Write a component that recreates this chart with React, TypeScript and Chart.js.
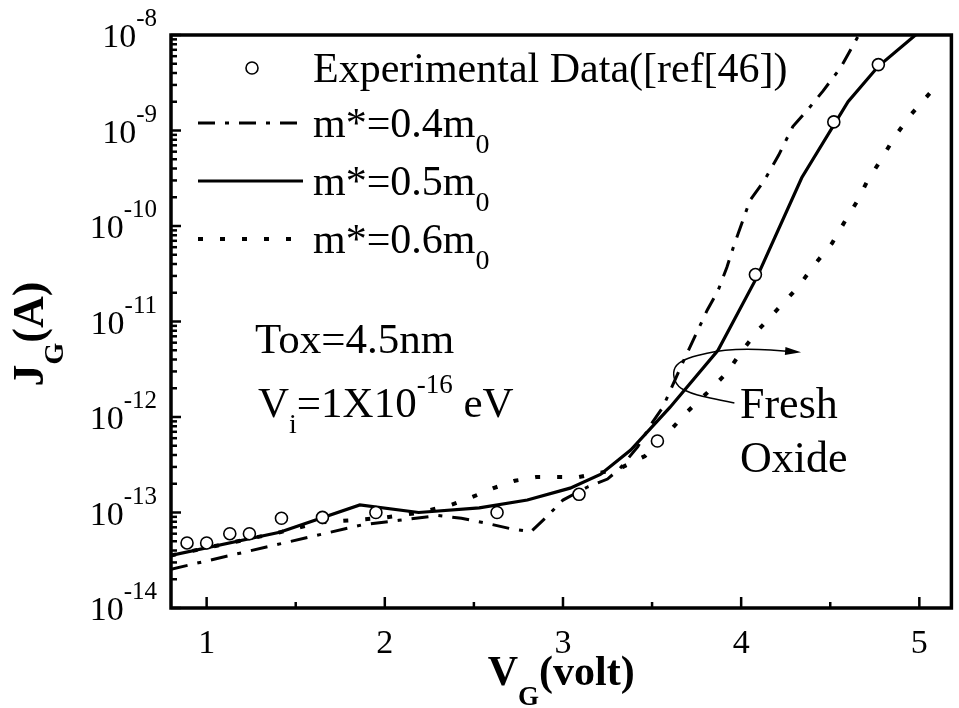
import React, { useEffect, useRef } from "react";
import { Chart, registerables } from "chart.js";

Chart.register(...registerables);

// ---------------- data ----------------
const EXP_V = [0.89, 1.0, 1.13, 1.24, 1.42, 1.65, 1.95, 2.63, 3.09, 3.53, 4.08, 4.52, 4.77];
const EXP_J = [4.8e-14, 4.8e-14, 6.0e-14, 6.0e-14, 8.7e-14, 8.9e-14, 1.0e-13, 1.0e-13, 1.55e-13, 5.6e-13, 3.1e-11, 1.23e-9, 4.9e-9];

const M04_V = [0.8, 1.87, 2.08, 2.3, 2.43, 2.56, 2.7, 2.82, 2.9, 3.0, 3.14, 3.25, 3.32, 3.42, 3.5, 3.56, 3.68, 3.75, 3.81, 3.87, 3.92, 3.96, 4.05, 4.13, 4.21, 4.29, 4.37, 4.46, 4.56, 4.66, 4.72];
const M04_J = [2.55e-14, 7.4e-14, 8.3e-14, 9.3e-14, 8.7e-14, 7.8e-14, 6.8e-14, 6.3e-14, 8.7e-14, 1.35e-13, 1.86e-13, 2.24e-13, 2.9e-13, 4.9e-13, 8.7e-13, 1.26e-12, 4.0e-12, 7.6e-12, 1.32e-11, 2.1e-11, 3.7e-11, 6.3e-11, 1.86e-10, 3.0e-10, 5.5e-10, 1.1e-9, 1.62e-9, 2.6e-9, 4.6e-9, 1.0e-8, 1.4e-8];

const M05_V = [0.8, 1.41, 1.86, 2.19, 2.53, 2.8, 3.04, 3.21, 3.38, 3.6, 3.87, 4.09, 4.34, 4.6, 4.77, 5.0];
const M05_J = [3.55e-14, 6.2e-14, 1.2e-13, 1.0e-13, 1.12e-13, 1.35e-13, 1.8e-13, 2.5e-13, 4.5e-13, 1.26e-12, 5.0e-12, 2.95e-11, 3.2e-10, 2.0e-9, 4.7e-9, 1.08e-8];

const M06_V = [0.8, 1.41, 1.64, 1.89, 2.01, 2.2, 2.37, 2.49, 2.61, 2.73, 2.85, 2.97, 3.09, 3.21, 3.32, 3.46, 3.58, 3.69, 3.81, 3.92, 4.0, 4.1, 4.21, 4.32, 4.41, 4.51, 4.58, 4.65, 4.71, 4.79, 4.86, 4.95, 5.07];
const M06_J = [3.55e-14, 6.2e-14, 7.9e-14, 8.5e-14, 8.9e-14, 1.0e-13, 1.2e-13, 1.45e-13, 1.8e-13, 2.15e-13, 2.35e-13, 2.35e-13, 2.35e-13, 2.6e-13, 2.9e-13, 3.9e-13, 6.5e-13, 1.1e-12, 1.8e-12, 2.9e-12, 4.8e-12, 8.3e-12, 1.38e-11, 2.3e-11, 3.9e-11, 6.6e-11, 1.1e-10, 1.8e-10, 3.0e-10, 5.1e-10, 8.5e-10, 1.45e-9, 2.6e-9];

// axis ticks
const X_TICKS = [1, 2, 3, 4, 5];
const X_MINOR = [1.5, 2.5, 3.5, 4.5];
const Y_EXPONENTS = [-8, -9, -10, -11, -12, -13, -14];

// legend / annotation texts
const LEGEND_EXP = "Experimental Data([ref[46])";
const LEGEND_MASS = ["m*=0.4m", "m*=0.5m", "m*=0.6m"];
const NOTE_TOX = "Tox=4.5nm";
const NOTE_FRESH = ["Fresh", "Oxide"];

// "Fresh Oxide" loop + arrow path, in data units (V, log10 J)
const LOOP_V = [3.962, 3.794, 3.716, 3.644, 3.616, 3.632, 3.699, 3.811, 3.906, 4.035, 4.163, 4.314];
const LOOP_LOGJ = [-11.853, -11.791, -11.749, -11.686, -11.56, -11.455, -11.382, -11.33, -11.298, -11.288, -11.298, -11.319];

// ---------------- styles ----------------
const SERIF = '"Liberation Serif", "Times New Roman", Times, serif';
const DASH_DOT = [17, 10, 4, 10];
const DOTS = [5, 17];

type Part = { t: string; size: number; bold?: boolean; dy?: number };
const fontOf = (size: number, bold?: boolean) => `${bold ? "bold " : ""}${size}px ${SERIF}`;
function richWidth(ctx: CanvasRenderingContext2D, parts: Part[]) {
  let w = 0;
  for (const p of parts) {
    ctx.font = fontOf(p.size, p.bold);
    w += ctx.measureText(p.t).width;
  }
  return w;
}
function drawRich(ctx: CanvasRenderingContext2D, x: number, y: number, parts: Part[]) {
  let cx = x;
  for (const p of parts) {
    ctx.font = fontOf(p.size, p.bold);
    ctx.fillText(p.t, cx, y + (p.dy || 0));
    cx += ctx.measureText(p.t).width;
  }
  return cx;
}

const decor = {
  id: "decor",
  afterDatasetsDraw(chart: any) {
    const ctx: CanvasRenderingContext2D = chart.ctx;
    const a = chart.chartArea;
    const xs = chart.scales.x;
    const ys = chart.scales.y;
    ctx.save();
    ctx.fillStyle = "#000";
    ctx.strokeStyle = "#000";
    ctx.textBaseline = "alphabetic";
    ctx.textAlign = "left";
    ctx.setLineDash([]);

    const seg = (x1: number, y1: number, x2: number, y2: number) => {
      ctx.beginPath();
      ctx.moveTo(x1, y1);
      ctx.lineTo(x2, y2);
      ctx.stroke();
    };

    // frame
    ctx.lineWidth = 3.5;
    ctx.strokeRect(a.left, a.top, a.right - a.left, a.bottom - a.top);

    // x ticks (inward)
    ctx.lineWidth = 2.5;
    for (const v of X_TICKS) {
      const x = xs.getPixelForValue(v);
      seg(x, a.bottom, x, a.bottom - 11);
    }
    for (const v of X_MINOR) {
      const x = xs.getPixelForValue(v);
      seg(x, a.bottom, x, a.bottom - 6);
    }
    // y ticks (inward)
    for (const e of Y_EXPONENTS) {
      const y = ys.getPixelForValue(Math.pow(10, e));
      seg(a.left, y, a.left + 10, y);
      if (e < -8) {
        for (let m = 2; m <= 9; m++) {
          const ym = ys.getPixelForValue(m * Math.pow(10, e));
          seg(a.left, ym, a.left + 6, ym);
        }
      }
    }

    // y tick labels 10^e
    for (const e of Y_EXPONENTS) {
      const y = ys.getPixelForValue(Math.pow(10, e));
      const parts: Part[] = [
        { t: "10", size: 34 },
        { t: String(e), size: 25, dy: -21 },
      ];
      const w = richWidth(ctx, parts);
      drawRich(ctx, 157 - w, y + 12, parts);
    }
    // x tick labels
    ctx.font = fontOf(34);
    for (const v of X_TICKS) {
      const x = xs.getPixelForValue(v);
      const t = String(v);
      const w = ctx.measureText(t).width;
      ctx.fillText(t, x - w / 2, a.bottom + 45);
    }

    // x title
    const xt: Part[] = [
      { t: "V", size: 42, bold: true },
      { t: "G", size: 27, bold: true, dy: 20 },
      { t: "(volt)", size: 42, bold: true },
    ];
    const xtw = richWidth(ctx, xt);
    drawRich(ctx, (a.left + a.right) / 2 - xtw / 2, a.bottom + 77, xt);

    // y title (rotated)
    const yt: Part[] = [
      { t: "J", size: 44, bold: true },
      { t: "G", size: 28, bold: true, dy: 20 },
      { t: "(A)", size: 44, bold: true },
    ];
    const ytw = richWidth(ctx, yt);
    ctx.save();
    ctx.translate(43, 334);
    ctx.rotate(-Math.PI / 2);
    drawRich(ctx, -ytw / 2, 0, yt);
    ctx.restore();

    // legend
    const lx0 = 198;
    const lx1 = 303;
    const tx = 313;
    ctx.lineWidth = 1.6;
    ctx.beginPath();
    ctx.arc(252, 68, 6, 0, Math.PI * 2);
    ctx.stroke();
    drawRich(ctx, tx, 82, [{ t: LEGEND_EXP, size: 42 }]);
    const dashes = [DASH_DOT, [], DOTS];
    const widths = [3, 3.2, 4];
    const baselines = [137, 195, 253];
    LEGEND_MASS.forEach((label, i) => {
      const yb = baselines[i];
      ctx.setLineDash(dashes[i]);
      ctx.lineWidth = widths[i];
      seg(lx0, yb - 14, lx1, yb - 14);
      ctx.setLineDash([]);
      drawRich(ctx, tx, yb, [
        { t: label, size: 42 },
        { t: "0", size: 28, dy: 16 },
      ]);
    });

    // annotations
    drawRich(ctx, 255, 353, [{ t: NOTE_TOX, size: 43 }]);
    drawRich(ctx, 258, 417, [
      { t: "V", size: 43 },
      { t: "i", size: 28, dy: 16 },
      { t: "=1X10", size: 43 },
      { t: "-16", size: 27, dy: -24 },
      { t: " eV", size: 43 },
    ]);
    drawRich(ctx, 740, 418, [{ t: NOTE_FRESH[0], size: 44 }]);
    drawRich(ctx, 740, 472, [{ t: NOTE_FRESH[1], size: 44 }]);

    // loop + arrow
    const pts = LOOP_V.map((v, i) => ({
      x: xs.getPixelForValue(v),
      y: ys.getPixelForValue(Math.pow(10, LOOP_LOGJ[i])),
    }));
    ctx.lineWidth = 1.5;
    ctx.beginPath();
    ctx.moveTo(pts[0].x, pts[0].y);
    for (let i = 1; i < pts.length - 1; i++) {
      const mx = (pts[i].x + pts[i + 1].x) / 2;
      const my = (pts[i].y + pts[i + 1].y) / 2;
      ctx.quadraticCurveTo(pts[i].x, pts[i].y, mx, my);
    }
    const last = pts[pts.length - 1];
    const prev = pts[pts.length - 2];
    ctx.lineTo(last.x, last.y);
    ctx.stroke();
    const ang = Math.atan2(last.y - prev.y, last.x - prev.x);
    const L = 12;
    const W = 4;
    ctx.beginPath();
    ctx.moveTo(last.x + Math.cos(ang) * 4, last.y + Math.sin(ang) * 4);
    ctx.lineTo(last.x - Math.cos(ang) * L + Math.sin(ang) * W, last.y - Math.sin(ang) * L - Math.cos(ang) * W);
    ctx.lineTo(last.x - Math.cos(ang) * L - Math.sin(ang) * W, last.y - Math.sin(ang) * L + Math.cos(ang) * W);
    ctx.closePath();
    ctx.fill();

    ctx.restore();
  },
};

const toXY = (vs: number[], js: number[]) => vs.map((v, i) => ({ x: v, y: js[i] }));

export default function App() {
  const ref = useRef<HTMLCanvasElement | null>(null);

  useEffect(() => {
    if (!ref.current) return;
    const chart = new Chart(ref.current, {
      type: "line",
      data: {
        datasets: [
          {
            label: "Experimental Data([ref[46])",
            data: toXY(EXP_V, EXP_J),
            showLine: false,
            pointRadius: 6,
            pointBorderWidth: 1.6,
            pointBorderColor: "#000",
            pointBackgroundColor: "#fff",
            order: 0,
          },
          {
            label: "m*=0.4m0",
            data: toXY(M04_V, M04_J),
            borderColor: "#000",
            borderWidth: 3,
            borderDash: DASH_DOT,
            pointRadius: 0,
            tension: 0,
            fill: false,
            order: 1,
          },
          {
            label: "m*=0.5m0",
            data: toXY(M05_V, M05_J),
            borderColor: "#000",
            borderWidth: 3.2,
            pointRadius: 0,
            tension: 0,
            fill: false,
            order: 1,
          },
          {
            label: "m*=0.6m0",
            data: toXY(M06_V, M06_J),
            borderColor: "#000",
            borderWidth: 4,
            borderDash: DOTS,
            pointRadius: 0,
            tension: 0,
            fill: false,
            order: 1,
          },
        ],
      } as any,
      options: {
        animation: false,
        responsive: false,
        maintainAspectRatio: false,
        devicePixelRatio: 1,
        events: [],
        layout: { padding: { left: 0, right: 4, top: 35, bottom: 0 } },
        plugins: { legend: { display: false }, tooltip: { enabled: false } },
        scales: {
          x: {
            type: "linear",
            min: 0.8,
            max: 5.18,
            grid: { display: false },
            border: { display: false },
            ticks: { display: false },
            afterFit: (s: any) => {
              s.height = 100;
            },
          },
          y: {
            type: "logarithmic",
            min: 1e-14,
            max: 1e-8,
            grid: { display: false },
            border: { display: false },
            ticks: { display: false },
            afterFit: (s: any) => {
              s.width = 171;
            },
          },
        },
      } as any,
      plugins: [decor],
    });
    return () => chart.destroy();
  }, []);

  return (
    <div style={{ position: "fixed", left: 0, top: 0, width: 959, height: 708, background: "#fff" }}>
      <canvas ref={ref} width={959} height={708} style={{ display: "block", width: 959, height: 708 }} />
    </div>
  );
}
